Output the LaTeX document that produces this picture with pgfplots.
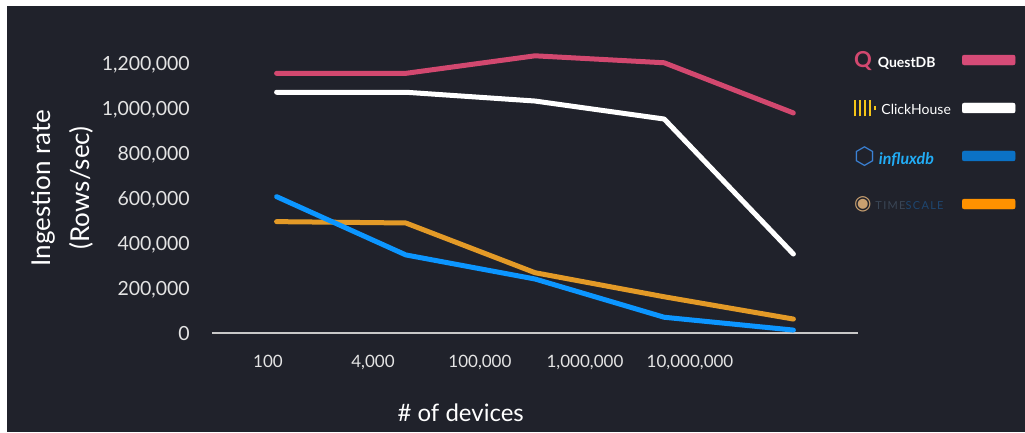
\documentclass[border=0pt]{standalone}
\usepackage{fontspec}
\setmainfont{Lato}
\newfontfamily\dejavu{DejaVu Sans}
\usepackage{pgfplots}
\pgfplotsset{compat=1.18}
\usetikzlibrary{backgrounds}
\definecolor{bg}{HTML}{20222B}
\definecolor{qpink}{HTML}{D2486F}
\definecolor{lblue}{HTML}{0C96FF}
\definecolor{lorange}{HTML}{E39A27}
\definecolor{legpink}{HTML}{D64B77}
\definecolor{legblue}{HTML}{0B72C6}
\definecolor{legorange}{HTML}{FF9200}
\definecolor{axgray}{HTML}{C8C8C8}
\definecolor{ticktext}{HTML}{E4E4E4}
\definecolor{chyellow}{HTML}{F5C518}
\definecolor{chred}{HTML}{E0282E}
\definecolor{inflblue}{HTML}{3B82D6}
\definecolor{inflcyan}{HTML}{22ADF6}
\definecolor{tstan}{HTML}{C9A070}
\definecolor{tsgray}{HTML}{3A4656}
\definecolor{tsnavy}{HTML}{1E4670}
\begin{document}
\begin{tikzpicture}
\begin{axis}[
  scale only axis, width=646pt, height=292.5pt,
  xmin=-0.5, xmax=4.5, ymin=0, ymax=1300000,
  clip=false,
  axis x line*=bottom, axis y line*=left,
  y axis line style={draw=none},
  x axis line style={draw=axgray, line width=1.5pt, -},
  tick style={draw=none}, major tick length=0pt,
  scaled y ticks=false,
  xtick={-0.067,0.746,1.574,2.387,3.2},
  xticklabels={100,{4,000},{100,000},{1,000,000},{10,000,000}},
  ytick={0,200000,400000,600000,800000,1000000,1200000},
  yticklabels={0,{200,000},{400,000},{600,000},{800,000},{1,000,000},{1,200,000}},
  /pgf/number format/assume math mode=true,
  xticklabel style={anchor=north, inner sep=0pt, yshift=-22pt, text=ticktext, font=\fontsize{17}{18}\selectfont},
  yticklabel style={anchor=base east, inner sep=0pt, xshift=-22pt, yshift=-7pt, text=ticktext, font=\fontsize{19.5}{21}\selectfont},
  xlabel={\# of devices},
  xlabel style={at={([yshift=-80pt]axis description cs:0.385,0)}, anchor=center, text=white, font=\fontsize{24}{28}\selectfont},
  ylabel={Ingestion rate\\(Rows/sec)},
  ylabel style={at={([xshift=-149.5pt]axis description cs:0,0.496)}, anchor=center, align=center, text=white, font=\fontsize{26}{39}\selectfont},
  legend cell align=left, legend plot pos=right,
  legend style={draw=none, fill=none, at={(axis description cs:0.9938,1.0154)}, anchor=north west,
    inner sep=0pt, outer sep=0pt, row sep=0pt, column sep=0pt,
    nodes={inner sep=0pt, minimum height=48pt, text=white, font=\fontsize{14}{16}\selectfont}},
]
\addplot[qpink, line width=5pt, line cap=round, line join=round, forget plot] coordinates {(0,1154000) (1,1154000) (2,1232000) (3,1201000) (4,978000)};
\addplot[white, line width=5pt, line cap=round, line join=round, forget plot] coordinates {(0,1070000) (1,1070000) (2,1031000) (3,951000) (4,351000)};
\addplot[lorange, line width=5pt, line cap=round, line join=round, forget plot] coordinates {(0,495000) (1,489000) (2,268000) (3,161000) (4,62000)};
\addplot[lblue, line width=5pt, line cap=round, line join=round, forget plot] coordinates {(0,606000) (1,347000) (2,240000) (3,70000) (4,13000)};

\addlegendimage{legend image code/.code={\fill[legpink, rounded corners=2pt] (0pt,-5pt) rectangle (53pt,5pt);}}
\addlegendentry{\makebox[108pt][l]{\textcolor{qpink}{\fontsize{22}{22}\selectfont\bfseries Q}\hspace{6pt}{\bfseries QuestDB}}}
\addlegendimage{legend image code/.code={\fill[white, rounded corners=2pt] (0pt,-5pt) rectangle (53pt,5pt);}}
\addlegendentry{\makebox[108pt][l]{\textcolor{chyellow}{\rule[-2pt]{2.4pt}{16pt}\hspace{2.6pt}\rule[-2pt]{2.4pt}{16pt}\hspace{2.6pt}\rule[-2pt]{2.4pt}{16pt}\hspace{2.6pt}\rule[-2pt]{2.4pt}{16pt}\hspace{2.6pt}\rule[4pt]{2.4pt}{4pt}}\hspace{5pt}ClickHouse}}
\addlegendimage{legend image code/.code={\fill[legblue, rounded corners=2pt] (0pt,-5pt) rectangle (53pt,5pt);}}
\addlegendentry{\makebox[108pt][l]{\textcolor{inflblue}{\dejavu\fontsize{24}{24}\selectfont ⬡}\hspace{4pt}\textcolor{inflcyan}{\fontsize{16}{16}\selectfont\bfseries\itshape influxdb}}}
\addlegendimage{legend image code/.code={\fill[legorange, rounded corners=2pt] (0pt,-5pt) rectangle (53pt,5pt);}}
\addlegendentry{\makebox[108pt][l]{\textcolor{tstan}{\dejavu\fontsize{20}{20}\selectfont ◉}\hspace{4pt}{\fontsize{11}{12}\selectfont\addfontfeatures{LetterSpace=12}\textcolor{tsgray}{TIME}\textcolor{tsnavy}{SCALE}}}}
\end{axis}
\begin{scope}[on background layer]
\fill[white] ([shift={(-212pt,-99pt)}]current axis.south west) rectangle ++(1025pt,432pt);
\fill[bg] ([shift={(-205pt,-99pt)}]current axis.south west) rectangle ++(1018pt,426pt);
\end{scope}
\end{tikzpicture}
\end{document}
